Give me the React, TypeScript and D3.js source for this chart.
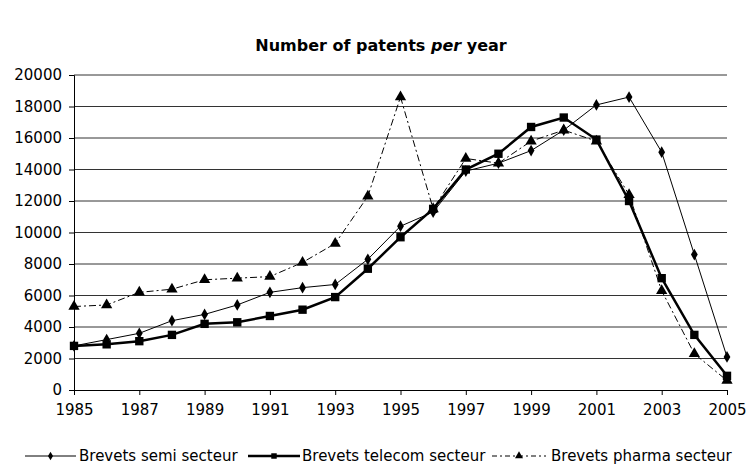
import React, { useEffect, useRef } from 'react';
import * as d3 from 'd3';

const years = d3.range(1985, 2006);
const semi = [2800, 3200, 3600, 4400, 4800, 5400, 6200, 6500, 6700, 8300, 10400, 11300, 13900, 14400, 15200, 16500, 18100, 18600, 15100, 8600, 2100];
const telecom = [2800, 2900, 3100, 3500, 4200, 4300, 4700, 5100, 5900, 7700, 9700, 11500, 14000, 15000, 16700, 17300, 15900, 12000, 7100, 3500, 900];
const pharma = [5300, 5400, 6200, 6400, 7000, 7100, 7200, 8100, 9300, 12300, 18600, 11500, 14700, 14400, 15800, 16500, 15800, 12400, 6300, 2300, 600];
const yTicks = [0, 2000, 4000, 6000, 8000, 10000, 12000, 14000, 16000, 18000, 20000];
const xTicks = [1985, 1987, 1989, 1991, 1993, 1995, 1997, 1999, 2001, 2003, 2005];
const seriesNames = ['Brevets semi secteur', 'Brevets telecom secteur', 'Brevets pharma secteur'];

const FONT = '"DejaVu Sans", sans-serif';

const App = () => {
  const ref = useRef<SVGSVGElement>(null);

  useEffect(() => {
    const svg = d3.select(ref.current);
    svg.selectAll('*').remove();

    const width = 748,
      height = 472,
      left = 74,
      right = 727,
      top = 75,
      bottom = 390;

    const x = d3.scaleLinear().domain([1985, 2005]).range([left, right]);
    const y = d3.scaleLinear().domain([0, 20000]).range([bottom, top]);

    svg.append('rect').attr('width', width).attr('height', height).attr('fill', 'white');

    // title
    const title = svg
      .append('text')
      .attr('x', 381)
      .attr('y', 51)
      .attr('text-anchor', 'middle')
      .style('font-family', FONT)
      .style('font-weight', 'bold')
      .style('font-size', '16px');
    title.append('tspan').text('Number of patents ');
    title.append('tspan').style('font-style', 'italic').text('per');
    title.append('tspan').text(' year');

    // gridlines
    svg
      .append('g')
      .selectAll('line')
      .data(yTicks.slice(1))
      .join('line')
      .attr('x1', left)
      .attr('x2', right)
      .attr('y1', (d) => y(d))
      .attr('y2', (d) => y(d))
      .attr('stroke', '#333')
      .attr('stroke-width', 1);

    // y axis
    const yAxis = svg
      .append('g')
      .attr('transform', `translate(${left},0)`)
      .call(d3.axisLeft(y).tickValues(yTicks).tickSize(5).tickPadding(7).tickFormat(d3.format('d')));
    yAxis.select('.domain').attr('stroke', 'black');
    yAxis.selectAll('text').style('font-family', FONT).style('font-size', '15px').attr('fill', 'black');

    // x axis
    const xAxis = svg
      .append('g')
      .attr('transform', `translate(0,${bottom})`)
      .call(d3.axisBottom(x).tickValues(xTicks).tickSize(5).tickPadding(9).tickFormat(d3.format('d')));
    xAxis.select('.domain').attr('stroke', 'black');
    xAxis.selectAll('text').style('font-family', FONT).style('font-size', '15px').attr('fill', 'black');

    const line = (vals) =>
      d3
        .line()
        .x((d, i) => x(years[i]))
        .y((d) => y(d))(vals);

    const diamond = d3.symbol().type(d3.symbolDiamond);
    const square = d3.symbol().type(d3.symbolSquare);
    const triangle = d3.symbol().type(d3.symbolTriangle);

    const drawSeries = (vals, w, dash, sym) => {
      svg
        .append('path')
        .attr('d', line(vals))
        .attr('fill', 'none')
        .attr('stroke', 'black')
        .attr('stroke-width', w)
        .attr('stroke-dasharray', dash);
      svg
        .append('g')
        .selectAll('path')
        .data(vals)
        .join('path')
        .attr('transform', (d, i) => `translate(${x(years[i])},${y(d)})`)
        .attr('d', sym)
        .attr('fill', 'black');
    };

    drawSeries(pharma, 1, '7,3,2,3', triangle.size(55)());
    drawSeries(semi, 1, null, diamond.size(40)());
    drawSeries(telecom, 2.5, null, square.size(70)());

    // legend
    const legend = [
      { name: seriesNames[0], x1: 25, x2: 76, tx: 79, w: 1, dash: null, sym: diamond.size(22)() },
      { name: seriesNames[1], x1: 248, x2: 300, tx: 302, w: 2.5, dash: null, sym: square.size(30)() },
      { name: seriesNames[2], x1: 492, x2: 546, tx: 551, w: 1, dash: '5,3,2,3', sym: triangle.size(28)() },
    ];
    const ly = 456;
    legend.forEach((l) => {
      svg
        .append('line')
        .attr('x1', l.x1)
        .attr('x2', l.x2)
        .attr('y1', ly)
        .attr('y2', ly)
        .attr('stroke', 'black')
        .attr('stroke-width', l.w)
        .attr('stroke-dasharray', l.dash);
      svg
        .append('path')
        .attr('transform', `translate(${(l.x1 + l.x2) / 2},${ly})`)
        .attr('d', l.sym)
        .attr('fill', 'black');
      svg
        .append('text')
        .attr('x', l.tx)
        .attr('y', ly + 5)
        .style('font-family', FONT)
        .style('font-size', '15px')
        .text(l.name);
    });
  }, []);

  return (
    <svg
      ref={ref}
      width={748}
      height={472}
      style={{ position: 'absolute', left: 0, top: 0, display: 'block' }}
    />
  );
};

export default App;
